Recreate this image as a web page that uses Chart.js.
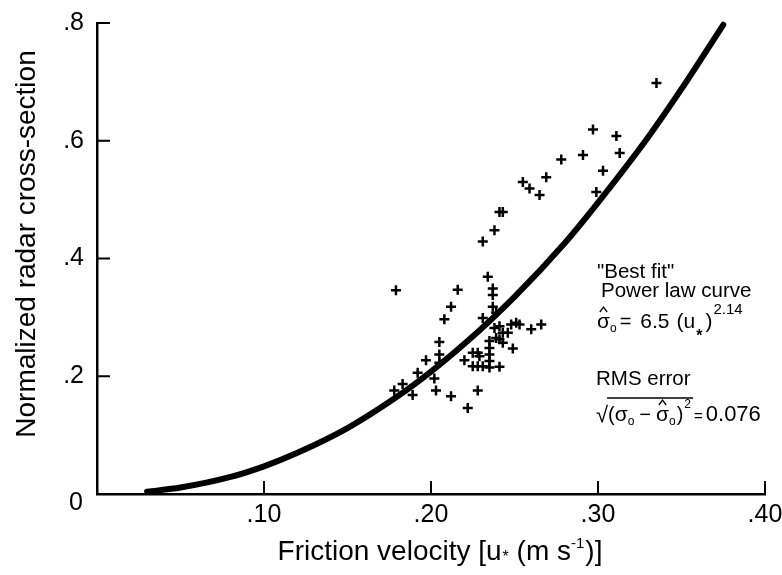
<!DOCTYPE html>
<html>
<head>
<meta charset="utf-8">
<title>Normalized radar cross-section vs friction velocity</title>
<script src="https://cdn.jsdelivr.net/npm/chart.js@4.4.0/dist/chart.umd.min.js"></script>
<style>
  html, body { margin: 0; padding: 0; background: #fff; }
  #wrap { width: 782px; height: 575px; }
</style>
</head>
<body>
<div id="wrap"><canvas id="chart" width="782" height="575"></canvas></div>
<script>
// axis ticks
const xTickValues = [0, 0.10, 0.20, 0.30, 0.40];
const xTickLabels = ['', '.10', '.20', '.30', '.40'];
const yTickValues = [0, 0.2, 0.4, 0.6, 0.8];
const yTickLabels = ['', '.2', '.4', '.6', '.8'];

// observations (+ markers)
const obsU = [
  0.335, 0.297, 0.311, 0.313, 0.291, 0.278, 0.303, 0.299, 0.269, 0.255,
  0.259, 0.265, 0.241, 0.243, 0.238, 0.231, 0.234, 0.179, 0.216, 0.237,
  0.237, 0.237, 0.212, 0.208, 0.231, 0.239, 0.205, 0.238, 0.241, 0.248,
  0.251, 0.253, 0.260, 0.266, 0.243, 0.246, 0.239, 0.241, 0.243, 0.235,
  0.235, 0.235, 0.235, 0.235, 0.249, 0.225, 0.228, 0.229, 0.220, 0.225,
  0.228, 0.231, 0.241, 0.197, 0.205, 0.205, 0.192, 0.183, 0.178, 0.189,
  0.202, 0.203, 0.212, 0.222, 0.228
];
const obsSigma = [
  0.698, 0.619, 0.608, 0.579, 0.576, 0.568, 0.549, 0.513, 0.538, 0.530,
  0.519, 0.508, 0.479, 0.479, 0.448, 0.429, 0.369, 0.346, 0.347, 0.349,
  0.338, 0.318, 0.318, 0.297, 0.299, 0.308, 0.258, 0.282, 0.285, 0.288,
  0.291, 0.288, 0.280, 0.288, 0.274, 0.274, 0.265, 0.263, 0.257, 0.260,
  0.248, 0.237, 0.226, 0.215, 0.247, 0.240, 0.240, 0.234, 0.227, 0.217,
  0.217, 0.217, 0.216, 0.227, 0.237, 0.223, 0.206, 0.187, 0.176, 0.168,
  0.196, 0.176, 0.166, 0.146, 0.176
];

// "best fit" power law curve
const fitU = [0.030, 0.050, 0.080, 0.100, 0.120, 0.150, 0.180, 0.200, 0.220, 0.250, 0.280, 0.300, 0.330, 0.350, 0.375];
const fitSigma = [0.004, 0.011, 0.029, 0.047, 0.070, 0.112, 0.166, 0.208, 0.255, 0.335, 0.426, 0.495, 0.606, 0.688, 0.797];

const FONT = "'Liberation Sans', Arial, Helvetica, sans-serif";
const INK = '#000';

function toPoints(xs, ys) {
  return xs.map((x, i) => ({ x, y: ys[i] }));
}

// draw a run of text pieces left to right, returns where each piece went
function textRun(ctx, x, y, parts) {
  const placed = [];
  parts.forEach(p => {
    ctx.font = (p.bold ? 'bold ' : '') + p.size + 'px ' + FONT;
    x += p.pre || 0;
    ctx.fillText(p.t, x, y + (p.dy || 0));
    const w = ctx.measureText(p.t).width;
    placed.push({ x, w });
    x += w;
  });
  return placed;
}

function runWidth(ctx, parts) {
  let w = 0;
  parts.forEach(p => {
    ctx.font = (p.bold ? 'bold ' : '') + p.size + 'px ' + FONT;
    w += (p.pre || 0) + ctx.measureText(p.t).width;
  });
  return w;
}

function hat(ctx, m, baseline) {
  ctx.beginPath();
  ctx.moveTo(m.x + m.w * 0.22, baseline - 16);
  ctx.lineTo(m.x + m.w * 0.5, baseline - 21);
  ctx.lineTo(m.x + m.w * 0.78, baseline - 16);
  ctx.stroke();
}

const decor = {
  id: 'decor',
  afterDraw(chart) {
    const { ctx, chartArea: a } = chart;
    const sx = chart.scales.x, sy = chart.scales.y;
    ctx.save();
    ctx.strokeStyle = INK;
    ctx.fillStyle = INK;

    // tick marks point into the plot
    ctx.lineWidth = 2;
    ctx.beginPath();
    xTickValues.forEach(v => {
      if (!v) return;
      const p = sx.getPixelForValue(v);
      ctx.moveTo(p, a.bottom);
      ctx.lineTo(p, a.bottom - 13);
    });
    yTickValues.forEach(v => {
      if (!v) return;
      const p = sy.getPixelForValue(v);
      ctx.moveTo(a.left, p);
      ctx.lineTo(a.left + 13, p);
    });
    ctx.stroke();

    // shared origin label
    ctx.textAlign = 'center';
    ctx.textBaseline = 'middle';
    ctx.font = '25px ' + FONT;
    ctx.fillText('0', a.left - 21, a.bottom + 9);

    // y title
    ctx.save();
    ctx.translate(27, 244);
    ctx.rotate(-Math.PI / 2);
    ctx.font = '28px ' + FONT;
    ctx.fillText('Normalized radar cross-section', 0, 0);
    ctx.restore();

    // x title
    ctx.textAlign = 'left';
    ctx.textBaseline = 'alphabetic';
    const xTitle = [
      { t: 'Friction velocity [u', size: 28 },
      { t: '*', size: 16, dy: 2, pre: 1 },
      { t: ' (m s', size: 28 },
      { t: '-1', size: 15, dy: -12 },
      { t: ')]', size: 28, pre: 1 }
    ];
    textRun(ctx, 440 - runWidth(ctx, xTitle) / 2, 560, xTitle);

    // fit annotation
    ctx.lineWidth = 1.3;
    ctx.font = '20.5px ' + FONT;
    ctx.fillText('"Best fit"', 597, 278);
    ctx.fillText('Power law curve', 601, 297);

    const f1 = textRun(ctx, 597, 328, [
      { t: 'σ', size: 21 },
      { t: 'o', size: 12, dy: 4 },
      { t: '=', size: 20, pre: 3 },
      { t: '6.5', size: 21, pre: 9 },
      { t: '(u', size: 21, pre: 7 },
      { t: '*', size: 16, bold: true, dy: 13, pre: 1 },
      { t: ')', size: 21, pre: 3 },
      { t: '2.14', size: 15, dy: -14, pre: 1 }
    ]);
    hat(ctx, f1[0], 328);

    ctx.font = '20.5px ' + FONT;
    ctx.fillText('RMS error', 596, 385);

    const base2 = 421;
    const f2 = textRun(ctx, 596, base2 + 1, [{ t: '√', size: 22 }]);
    const f3 = textRun(ctx, f2[0].x + f2[0].w, base2, [
      { t: '(', size: 20 },
      { t: 'σ', size: 21 },
      { t: 'o', size: 12, dy: 4 },
      { t: '−', size: 20, pre: 5 },
      { t: 'σ', size: 21, pre: 5 },
      { t: 'o', size: 12, dy: 4 },
      { t: ')', size: 20, pre: 1 },
      { t: '2', size: 12, dy: -13, pre: 1 },
      { t: '=', size: 15, pre: 3 },
      { t: '0.076', size: 22, pre: 3 }
    ]);
    hat(ctx, f3[4], base2);
    ctx.beginPath();
    ctx.moveTo(f2[0].x + f2[0].w - 1, base2 - 23);
    ctx.lineTo(f3[7].x + f3[7].w + 2, base2 - 23);
    ctx.stroke();

    ctx.restore();
  }
};

new Chart(document.getElementById('chart'), {
  type: 'scatter',
  data: {
    datasets: [
      {
        label: 'Power law fit',
        data: toPoints(fitU, fitSigma),
        showLine: true,
        borderColor: INK,
        borderWidth: 6,
        pointRadius: 0,
        cubicInterpolationMode: 'monotone',
        borderCapStyle: 'round',
        clip: 6
      },
      {
        label: 'Observations',
        data: toPoints(obsU, obsSigma),
        pointStyle: 'cross',
        pointRadius: 5,
        borderColor: INK,
        backgroundColor: INK,
        borderWidth: 2.5
      }
    ]
  },
  options: {
    responsive: false,
    animation: false,
    devicePixelRatio: 1,
    layout: { padding: { top: 23, right: 17, left: 0, bottom: 0 } },
    plugins: {
      legend: { display: false },
      tooltip: { enabled: false }
    },
    scales: {
      x: {
        type: 'linear',
        min: 0,
        max: 0.4,
        afterBuildTicks: s => { s.ticks = xTickValues.map(v => ({ value: v })); },
        afterFit: s => { s.height = 81; s.paddingLeft = 0; s.paddingRight = 0; },
        grid: { display: false, drawTicks: false },
        border: { display: true, color: INK, width: 2.5 },
        ticks: {
          autoSkip: false,
          maxRotation: 0,
          padding: 6,
          color: INK,
          font: { size: 25, family: FONT },
          callback: (v, i) => xTickLabels[i]
        }
      },
      y: {
        type: 'linear',
        min: 0,
        max: 0.8,
        afterBuildTicks: s => { s.ticks = yTickValues.map(v => ({ value: v })); },
        afterFit: s => { s.width = 97; s.paddingTop = 0; s.paddingBottom = 0; },
        grid: { display: false, drawTicks: false },
        border: { display: true, color: INK, width: 2.5 },
        ticks: {
          autoSkip: false,
          padding: 13,
          color: INK,
          font: { size: 25, family: FONT },
          callback: (v, i) => yTickLabels[i]
        }
      }
    }
  },
  plugins: [decor]
});
</script>
</body>
</html>
